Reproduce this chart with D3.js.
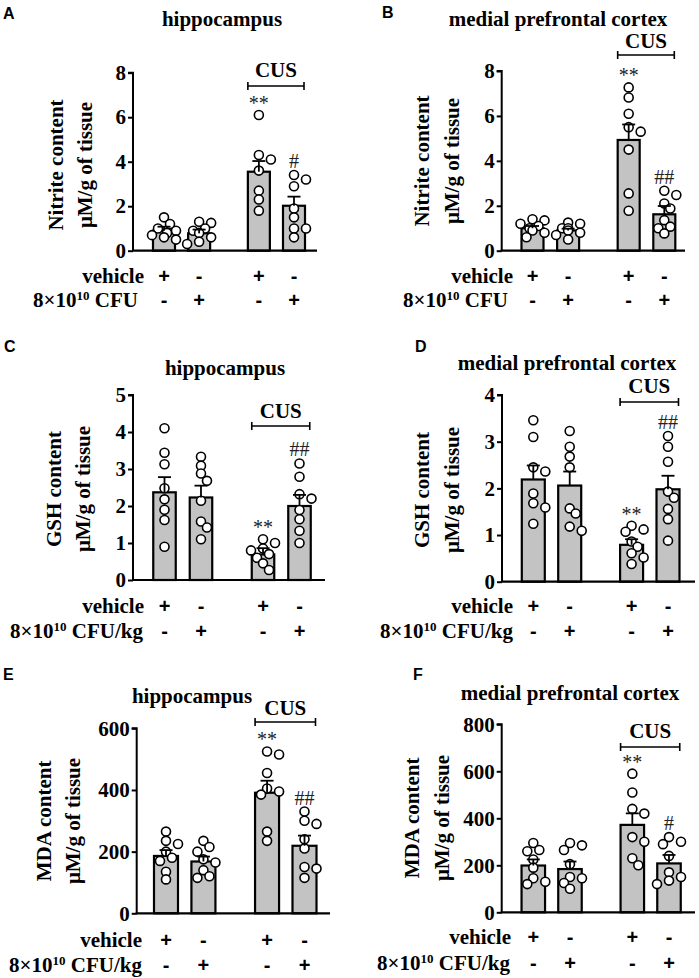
<!DOCTYPE html>
<html><head><meta charset="utf-8">
<script src="https://cdn.jsdelivr.net/npm/d3@7"></script>
<style>body{margin:0;background:#fff} svg{display:block}</style>
</head><body><svg id="c" width="699" height="978"></svg>
<script>
// ---------- DATA ----------
const groups = ["vehicle", "CFU", "CUS+vehicle", "CUS+CFU"];
const vehicleSigns = ["+", "-", "+", "-"];
const cfuSigns = ["-", "+", "-", "+"];

const nitriteTicks = [0, 2, 4, 6, 8];
const gshHipTicks = [0, 1, 2, 3, 4, 5];
const gshPfcTicks = [0, 1, 2, 3, 4];
const mdaHipTicks = [0, 200, 400, 600];
const mdaPfcTicks = [0, 200, 400, 600, 800];

const nitriteHipMean = [0.9, 0.78, 3.55, 2.02];
const nitriteHipSem = [0.18, 0.17, 0.48, 0.41];
const nitriteHipPts = [[1.5,1.2,1.0,0.9,0.8,0.7,0.6,0.5],[1.3,1.25,1.0,0.9,0.8,0.6,0.4,0.3],[6.1,4.3,4.1,3.6,2.7,2.3,1.8],[3.4,3.2,2.9,1.9,1.5,1.0,1.0,0.6]];
const nitriteHipSig = ["", "", "**", "#"];

const nitritePfcMean = [1.0, 0.9, 4.93, 1.62];
const nitritePfcSem = [0.1, 0.08, 0.69, 0.37];
const nitritePfcPts = [[1.4,1.35,1.2,1.1,1.0,0.9,0.8,0.6],[1.25,1.2,1.0,1.0,0.9,0.8,0.7,0.5],[7.27,6.82,6.1,5.5,5.3,4.5,2.55,1.78],[2.67,2.48,2.1,1.88,1.36,1.07,1.0,0.77]];
const nitritePfcSig = ["", "", "**", "##"];

const gshHipMean = [2.37, 2.23, 0.69, 2.0];
const gshHipSem = [0.41, 0.32, 0.17, 0.3];
const gshHipPts = [[4.1,3.44,3.13,2.48,2.18,1.9,1.62,0.9],[3.33,3.09,2.88,2.68,2.14,1.58,1.42,1.1],[1.1,1.0,0.85,0.8,0.7,0.6,0.45,0.27],[3.15,2.79,2.32,2.2,1.89,1.64,1.33,1.0]];
const gshHipSig = ["", "", "**", "##"];

const gshPfcMean = [2.19, 2.06, 0.79, 1.98];
const gshPfcSem = [0.3, 0.3, 0.12, 0.29];
const gshPfcPts = [[3.46,3.1,2.45,2.36,1.89,1.68,1.59,1.24],[3.23,2.89,2.68,2.45,1.57,1.46,1.18,1.09],[1.2,1.12,1.07,0.86,0.75,0.61,0.52,0.38],[3.12,2.89,2.57,1.93,1.8,1.56,1.34,0.88]];
const gshPfcSig = ["", "", "**", "##"];

const mdaHipMean = [186, 168, 391, 219];
const mdaHipSem = [19, 16, 39, 33];
const mdaHipPts = [[265,235,225,200,180,170,135,110],[235,215,200,175,165,140,120,115],[525,515,455,405,395,385,265,235],[330,300,290,240,210,150,145,115]];
const mdaHipSig = ["", "", "**", "##"];

const mdaPfcMean = [199, 184, 372, 208];
const mdaPfcSem = [26, 32, 49, 36];
const mdaPfcPts = [[295,265,260,225,190,145,130,120],[295,285,265,205,150,145,125,100],[590,510,440,420,320,300,230,200],[320,300,290,240,170,150,135,120]];
const mdaPfcSig = ["", "", "**", "#"];

// ---------- LAYOUT ----------
const slots = [0, 1, 2.7, 3.7];
const panels = [
  {letter:"A", lx:3, ly:19, title:"hippocampus", tx:222, ty:26, ylab:"Nitrite content", ticks:nitriteTicks,
   mean:nitriteHipMean, sem:nitriteHipSem, pts:nitriteHipPts, sig:nitriteHipSig,
   ax:133, y0:250.7, y1:72.7, c0:164, c3:294, bw:22, axEnd:317, cusY:77, brY:86,
   rowX:144, rowX2:138, row1:283, row2:307, cfu:"CFU", yl:{x1:63, x2:92, cy:165}},
  {letter:"B", lx:382, ly:18, title:"medial prefrontal cortex", tx:558, ty:26, ylab:"Nitrite content", ticks:nitriteTicks,
   mean:nitritePfcMean, sem:nitritePfcSem, pts:nitritePfcPts, sig:nitritePfcSig,
   ax:501.7, y0:250.7, y1:71, c0:532.5, c3:664.3, bw:22, axEnd:685, cusY:48, brY:55,
   rowX:513, rowX2:508, row1:283, row2:307, cfu:"CFU", yl:{x1:429, x2:459, cy:161}},
  {letter:"C", lx:4, ly:352, title:"hippocampus", tx:225, ty:375, ylab:"GSH content", ticks:gshHipTicks,
   mean:gshHipMean, sem:gshHipSem, pts:gshHipPts, sig:gshHipSig,
   ax:133, y0:580, y1:395, c0:164.5, c3:299.5, bw:22.5, axEnd:325, cusY:418, brY:426,
   rowX:144, rowX2:143, row1:613, row2:638, cfu:"CFU/kg", yl:{x1:61, x2:90, cy:489}},
  {letter:"D", lx:415, ly:352, title:"medial prefrontal cortex", tx:567, ty:370, ylab:"GSH content", ticks:gshPfcTicks,
   mean:gshPfcMean, sem:gshPfcSem, pts:gshPfcPts, sig:gshPfcSig,
   ax:502, y0:581.7, y1:395, c0:533.3, c3:668, bw:23, axEnd:695, cusY:393, brY:402,
   rowX:513, rowX2:513, row1:613, row2:638, cfu:"CFU/kg", yl:{x1:429, x2:459, cy:490}},
  {letter:"E", lx:3, ly:680, title:"hippocampus", tx:192, ty:703, ylab:"MDA content", ticks:mdaHipTicks,
   mean:mdaHipMean, sem:mdaHipSem, pts:mdaHipPts, sig:mdaHipSig,
   ax:136.7, y0:913.3, y1:728.3, c0:166, c3:304.5, bw:24, axEnd:330, cusY:715, brY:722,
   rowX:142, rowX2:142, row1:947, row2:972, cfu:"CFU/kg", yl:{x1:51, x2:80, cy:821}},
  {letter:"F", lx:413, ly:680, title:"medial prefrontal cortex", tx:570, ty:700, ylab:"MDA content", ticks:mdaPfcTicks,
   mean:mdaPfcMean, sem:mdaPfcSem, pts:mdaPfcPts, sig:mdaPfcSig,
   ax:501.7, y0:912.3, y1:724.3, c0:533.3, c3:669, bw:23.5, axEnd:695, cusY:738, brY:747,
   rowX:511, rowX2:510, row1:944, row2:970, cfu:"CFU/kg", yl:{x1:419, x2:449, cy:818}}
];

const svg = d3.select("#c");
const SERIF = "'Liberation Serif','Times New Roman',serif";
const SANS = "'Liberation Sans',Arial,sans-serif";
const R = 4.5;

function swarm(vals, y, cx) {
  const placed = [];
  const order = vals.map((v, i) => i).sort((a, b) => vals[b] - vals[a]);
  const out = new Array(vals.length);
  const offs = [0, 6, -6, 12, -12, 3, -3, 9, -9, 1.5, -1.5];
  order.forEach(i => {
    const py = y(vals[i]);
    let px = cx;
    for (const o of offs) {
      const x = cx + o;
      if (placed.every(p => Math.hypot(p[0] - x, p[1] - py) >= R * 1.7)) { px = x; break; }
    }
    placed.push([px, py]);
    out[i] = [px, py];
  });
  return out;
}

panels.forEach(p => {
  const g = svg.append("g");
  const y = d3.scaleLinear().domain([p.ticks[0], p.ticks[p.ticks.length - 1]]).range([p.y0, p.y1]);
  const x = d3.scaleLinear().domain([slots[0], slots[3]]).range([p.c0, p.c3]);
  const cx = i => x(slots[i]);

  g.append("text").attr("x", p.lx).attr("y", p.ly).text(p.letter)
    .attr("font-family", SANS).attr("font-weight", "bold").attr("font-size", 16);
  g.append("text").attr("x", p.tx).attr("y", p.ty).attr("text-anchor", "middle").text(p.title)
    .attr("font-family", SERIF).attr("font-weight", "bold").attr("font-size", 21);

  const yl = g.append("g").attr("font-family", SERIF).attr("font-weight", "bold").attr("font-size", 21)
    .attr("text-anchor", "middle");
  yl.append("text").attr("transform", `translate(${p.yl.x1},${p.yl.cy}) rotate(-90)`).text(p.ylab);
  yl.append("text").attr("transform", `translate(${p.yl.x2},${p.yl.cy}) rotate(-90)`).text("μM/g of tissue");

  g.selectAll("rect.bar").data(p.mean).join("rect")
    .attr("x", (d, i) => cx(i) - p.bw / 2).attr("width", p.bw)
    .attr("y", d => y(d)).attr("height", d => y(0) - y(d))
    .attr("fill", "#c3c3c3").attr("stroke", "#000").attr("stroke-width", 2.2);

  p.pts.forEach((vals, i) => {
    const pos = swarm(vals, y, cx(i));
    g.selectAll(null).data(pos).join("circle")
      .attr("cx", d => d[0]).attr("cy", d => d[1]).attr("r", R)
      .attr("fill", "#fff").attr("stroke", "#000").attr("stroke-width", 1.6);
  });

  p.mean.forEach((m, i) => {
    const c = cx(i), top = y(m + p.sem[i]);
    g.append("line").attr("x1", c).attr("x2", c).attr("y1", y(m)).attr("y2", top)
      .attr("stroke", "#000").attr("stroke-width", 1.8);
    g.append("line").attr("x1", c - 6.5).attr("x2", c + 6.5).attr("y1", top).attr("y2", top)
      .attr("stroke", "#000").attr("stroke-width", 1.8);
  });

  p.sig.forEach((s, i) => {
    if (!s) return;
    const top = y(d3.max(p.pts[i]));
    g.append("text").attr("x", cx(i)).attr("y", top - (s === "**" ? 5 : 7)).attr("text-anchor", "middle")
      .attr("font-family", SERIF).attr("font-size", 20).attr("fill", "#222").text(s);
  });

  const yAxis = d3.axisLeft(y).tickValues(p.ticks).tickSize(5).tickPadding(2).tickFormat(d3.format("d"));
  const ya = g.append("g").attr("transform", `translate(${p.ax},0)`).call(yAxis);
  ya.select(".domain").attr("stroke-width", 2).attr("d", `M-5,${p.y1}H0V${p.y0}`);
  ya.selectAll(".tick line").attr("stroke-width", 2);
  ya.selectAll(".tick text").attr("font-family", SERIF).attr("font-weight", "bold").attr("font-size", 21).attr("fill", "#000");
  g.append("line").attr("x1", p.ax - 1).attr("x2", p.axEnd).attr("y1", p.y0).attr("y2", p.y0)
    .attr("stroke", "#000").attr("stroke-width", 2.2);

  const bx1 = cx(2) - p.bw / 2, bx2 = cx(3) + p.bw / 2 - 1;
  g.append("path").attr("d", `M${bx1},${p.brY - 4}V${p.brY + 4}M${bx1},${p.brY}H${bx2}M${bx2},${p.brY - 4}V${p.brY + 4}`)
    .attr("stroke", "#000").attr("stroke-width", 1.6).attr("fill", "none");
  g.append("text").attr("x", (bx1 + bx2) / 2).attr("y", p.cusY).attr("text-anchor", "middle").text("CUS")
    .attr("font-family", SERIF).attr("font-weight", "bold").attr("font-size", 21);

  g.append("text").attr("x", p.rowX).attr("y", p.row1).attr("text-anchor", "end").text("vehicle")
    .attr("font-family", SERIF).attr("font-weight", "bold").attr("font-size", 21);
  const t2 = g.append("text").attr("x", p.rowX2).attr("y", p.row2).attr("text-anchor", "end")
    .attr("font-family", SERIF).attr("font-weight", "bold").attr("font-size", 21);
  t2.append("tspan").text("8×10");
  t2.append("tspan").text("10").attr("font-size", 13).attr("dy", -7);
  t2.append("tspan").text(" " + p.cfu).attr("dy", 7);

  [[vehicleSigns, p.row1], [cfuSigns, p.row2]].forEach(([signs, ry]) => {
    g.selectAll(null).data(signs).join("text")
      .attr("x", (d, i) => cx(i)).attr("y", ry).attr("text-anchor", "middle")
      .attr("font-family", SANS).attr("font-weight", "bold").attr("font-size", 20).text(d => d);
  });
});
</script></body></html>
